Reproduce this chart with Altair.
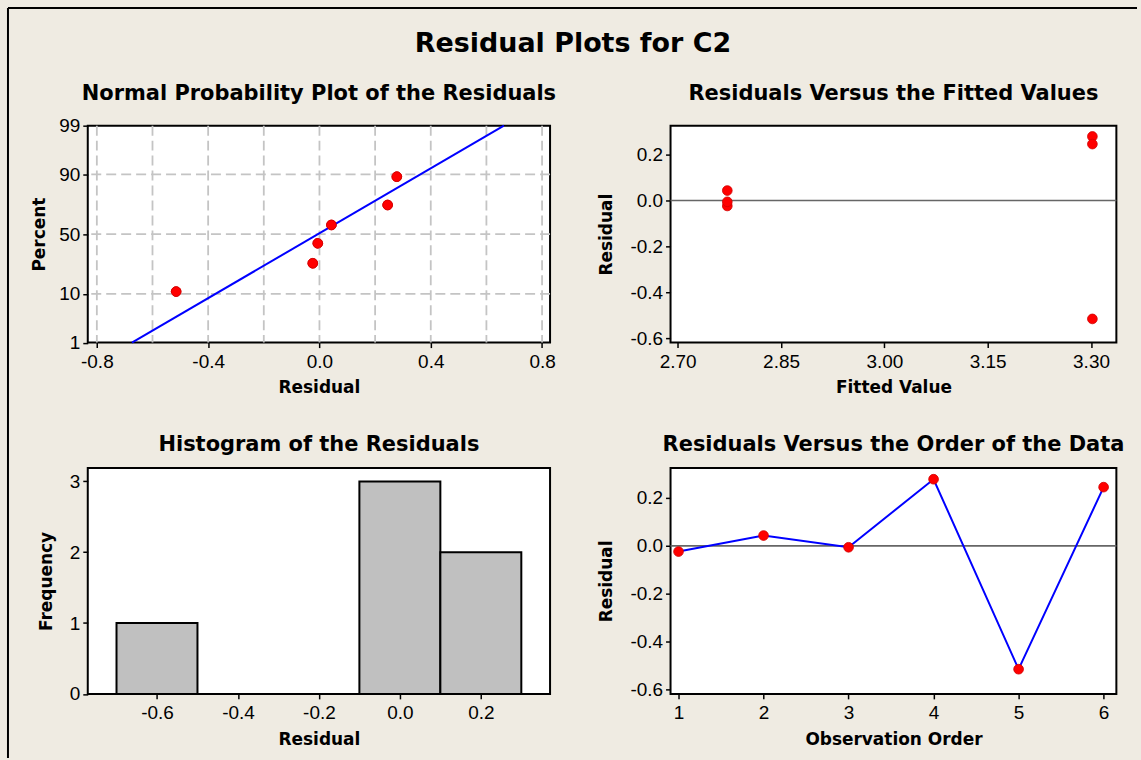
import altair as alt
import pandas as pd
from statistics import NormalDist

# Residuals of each observation, in run order, with its fitted value
observation = [1, 2, 3, 4, 5, 6]
fitted_value = [2.772, 2.772, 2.772, 3.302, 3.302, 3.302]
residual = [-0.024, 0.043, -0.006, 0.278, -0.515, 0.245]

# Plotting positions (percent) of the ordered residuals
prob_percent = [10.9, 26.6, 42.2, 57.8, 73.4, 89.1]

# Fitted normal reference line: residual at the 1st and 99th percent
line_residual = [-0.674, 0.663]
line_percent = [1, 99]

# Histogram bins and counts
bin_start = [-0.7, -0.5, -0.3, -0.1, 0.1]
bin_end = [-0.5, -0.3, -0.1, 0.1, 0.3]
bin_count = [1, 0, 0, 3, 2]

# Tick and grid positions
prob_ticks = [1, 10, 50, 90, 99]
prob_tick_labels = ["1", "10", "50", "90", "99"]
prob_grid_percent = [10, 50, 90]
prob_grid_residual = [-0.8, -0.6, -0.4, -0.2, 0.0, 0.2, 0.4, 0.6, 0.8]
prob_x_ticks = [-0.8, -0.4, 0.0, 0.4, 0.8]
fitted_ticks = [2.70, 2.85, 3.00, 3.15, 3.30]
resid_ticks = [-0.6, -0.4, -0.2, 0.0, 0.2]
hist_x_ticks = [-0.6, -0.4, -0.2, 0.0, 0.2]
hist_y_ticks = [0, 1, 2, 3]
order_ticks = [1, 2, 3, 4, 5, 6]

TITLE_FONT = "DejaVu Sans"
LABEL_FONT = "Liberation Sans"
BG = "#EFEBE2"
RED = "#FF0000"
BLUE = "#0000FF"
DOT = 95

nd = NormalDist()


def zval(p):
    return nd.inv_cdf(p / 100.0)


def signed_expr(fmt):
    return f"(datum.value < -1e-9 ? '-' : '') + format(abs(datum.value), '{fmt}')"


def x_axis(title, values, width, label_expr):
    return alt.Axis(
        title=title, values=values, labelExpr=label_expr, grid=False, domain=False,
        tickSize=5, tickWidth=1.5, tickColor="black",
        labelFont=LABEL_FONT, labelFontSize=19, labelColor="black", labelPadding=5,
        labelFlush=False, labelOverlap=False,
        titleFont=TITLE_FONT, titleFontSize=17, titleFontWeight="bold", titleColor="black",
        titleX=width / 2, titleY=50.5, titleBaseline="alphabetic", titleAlign="center",
    )


def y_axis(title, values, height, title_x, label_expr):
    return alt.Axis(
        title=title, values=values, labelExpr=label_expr, grid=False, domain=False,
        tickSize=5, tickWidth=1.5, tickColor="black",
        labelFont=LABEL_FONT, labelFontSize=19, labelColor="black", labelPadding=3,
        labelFlush=False, labelOverlap=False,
        titleFont=TITLE_FONT, titleFontSize=17, titleFontWeight="bold", titleColor="black",
        titleAngle=270, titleX=title_x, titleY=height / 2,
        titleBaseline="alphabetic", titleAlign="center",
    )


def panel_title(text, width, dy):
    return alt.Chart(pd.DataFrame({"t": [text]})).mark_text(
        font=TITLE_FONT, fontSize=21, fontWeight="bold", color="black",
        align="center", baseline="alphabetic",
    ).encode(x=alt.value(width / 2), y=alt.value(dy), text="t:N")


def dots(df, x, y):
    return alt.Chart(df).mark_circle(
        size=DOT, color=RED, opacity=1, stroke="#D00000", strokeWidth=0.8
    ).encode(x=x, y=y)


res_df = pd.DataFrame({"observation": observation, "fitted": fitted_value, "residual": residual})

# ---------- Normal probability plot ----------
W1, H1 = 463.5, 217.5
z_lo, z_hi = zval(1), zval(99)
x1 = alt.X("residual:Q", scale=alt.Scale(domain=[-0.8326, 0.8287], nice=False, zero=False),
           axis=x_axis("Residual", prob_x_ticks, W1, signed_expr(".1f")))
prob_expr = "''"
for p, lab in zip(reversed(prob_ticks), reversed(prob_tick_labels)):
    prob_expr = f"abs(datum.value - ({zval(p):.6f})) < 0.001 ? '{lab}' : " + prob_expr
y1 = alt.Y("z:Q", scale=alt.Scale(domain=[z_lo, z_hi], nice=False, zero=False),
           axis=y_axis("Percent", [zval(p) for p in prob_ticks], H1, -43, prob_expr))

pp_df = pd.DataFrame({"residual": sorted(residual), "z": [zval(p) for p in prob_percent]})
line_df = pd.DataFrame({"residual": line_residual, "z": [zval(p) for p in line_percent]})
gx_df = pd.DataFrame({"residual": prob_grid_residual})
gy_df = pd.DataFrame({"z": [zval(p) for p in prob_grid_percent]})

grid_style = dict(color="#C4C4C4", strokeWidth=1.8, strokeDash=[10, 5])
p1 = alt.layer(
    dots(pp_df, x1, y1),
    alt.Chart(gx_df).mark_rule(**grid_style).encode(x=x1),
    alt.Chart(gy_df).mark_rule(**grid_style).encode(y=y1),
    alt.Chart(line_df).mark_line(color=BLUE, strokeWidth=2).encode(x=x1, y=y1),
    dots(pp_df, x1, y1),
    panel_title("Normal Probability Plot of the Residuals", W1, -26),
    # outer frame and overall title
    alt.Chart(pd.DataFrame({"k": [0]})).mark_rule(color="black", strokeWidth=2).encode(
        x=alt.value(-80), x2=alt.value(1052), y=alt.value(-118)),
    alt.Chart(pd.DataFrame({"k": [0]})).mark_rule(color="black", strokeWidth=2).encode(
        x=alt.value(-80), y=alt.value(-118), y2=alt.value(634)),
    alt.Chart(pd.DataFrame({"t": ["Residual Plots for C2"]})).mark_text(
        font=TITLE_FONT, fontSize=27, fontWeight="bold", color="black",
        align="center", baseline="alphabetic",
    ).encode(x=alt.value(486.5), y=alt.value(-74), text="t:N"),
).properties(width=W1, height=H1)

# ---------- Residuals versus fitted values ----------
W2, H2 = 447, 217.5
resid_scale = alt.Scale(domain=[-0.618, 0.325], nice=False, zero=False)
x2 = alt.X("fitted:Q", scale=alt.Scale(domain=[2.6896, 3.3368], nice=False, zero=False),
           axis=x_axis("Fitted Value", fitted_ticks, W2, "format(datum.value, '.2f')"))
y2 = alt.Y("residual:Q", scale=resid_scale,
           axis=y_axis("Residual", resid_ticks, H2, -59, signed_expr(".1f")))
zero_df = pd.DataFrame({"residual": [0.0]})
p2 = alt.layer(
    alt.Chart(zero_df).mark_rule(color="#666666", strokeWidth=1.6).encode(y=y2),
    dots(res_df, x2, y2),
    panel_title("Residuals Versus the Fitted Values", W2, -26),
).properties(width=W2, height=H2)

# ---------- Histogram ----------
W3, H3 = 463.5, 226.5
hist_df = pd.DataFrame({"start": bin_start, "end": bin_end, "count": bin_count})
x3 = alt.X("start:Q", scale=alt.Scale(domain=[-0.771, 0.371], nice=False, zero=False),
           axis=x_axis("Residual", hist_x_ticks, W3, signed_expr(".1f")))
y3 = alt.Y("count:Q", scale=alt.Scale(domain=[0, 3.19], nice=False),
           axis=y_axis("Frequency", hist_y_ticks, H3, -36, "format(datum.value, 'd')"))
p3 = alt.layer(
    alt.Chart(hist_df).mark_rect(fill="#C0C0C0", stroke="black", strokeWidth=2).encode(
        x=x3, x2="end:Q", y=y3, y2=alt.datum(0)),
    panel_title("Histogram of the Residuals", W3, -17),
).properties(width=W3, height=H3)

# ---------- Residuals versus order ----------
W4, H4 = 447, 226.5
x4 = alt.X("observation:Q", scale=alt.Scale(domain=[0.906, 6.15], nice=False, zero=False),
           axis=x_axis("Observation Order", order_ticks, W4, "format(datum.value, 'd')"))
y4 = alt.Y("residual:Q", scale=resid_scale,
           axis=y_axis("Residual", resid_ticks, H4, -59, signed_expr(".1f")))
p4 = alt.layer(
    alt.Chart(zero_df).mark_rule(color="#666666", strokeWidth=1.6).encode(y=y4),
    alt.Chart(res_df).mark_line(color=BLUE, strokeWidth=2).encode(x=x4, y=y4, order="observation:Q"),
    dots(res_df, x4, y4),
    panel_title("Residuals Versus the Order of the Data", W4, -17),
).properties(width=W4, height=H4)

chart = alt.concat(
    p1, p2, p3, p4, columns=2, spacing={"row": 125.2, "column": 120.3},
    bounds="flush", align="each",
).properties(
    background=BG, padding={"left": 6, "top": 5, "right": 2, "bottom": 2},
).configure_view(
    fill="white", stroke="black", strokeWidth=2,
)

chart.save("out.html", embed_options={"renderer": "svg", "actions": False})
